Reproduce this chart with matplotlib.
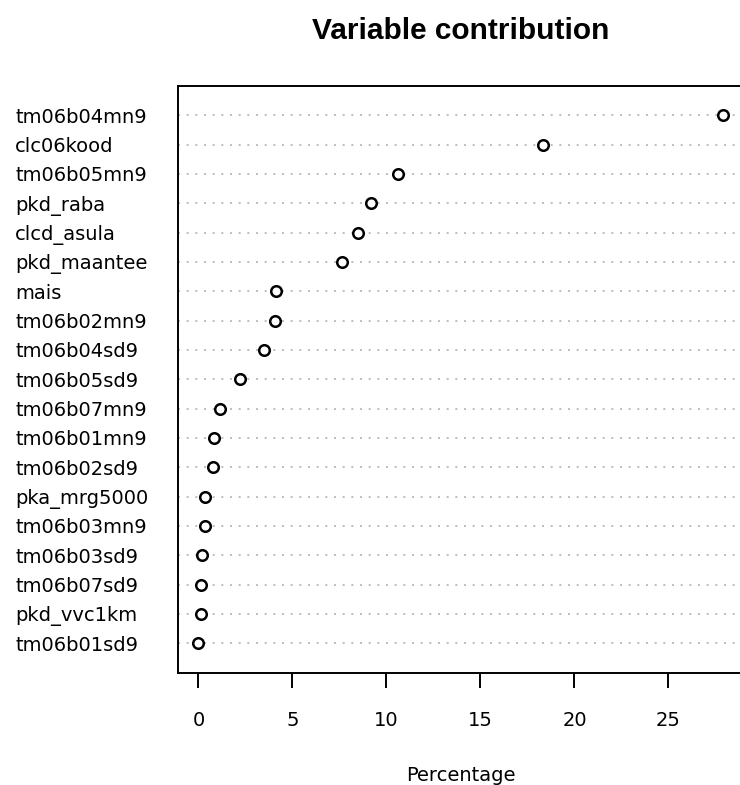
import matplotlib
matplotlib.use("Agg")
import matplotlib.pyplot as plt

# Data (top to bottom as shown)
variables = ["tm06b04mn9", "clc06kood", "tm06b05mn9", "pkd_raba", "clcd_asula",
             "pkd_maantee", "mais", "tm06b02mn9", "tm06b04sd9", "tm06b05sd9",
             "tm06b07mn9", "tm06b01mn9", "tm06b02sd9", "pka_mrg5000", "tm06b03mn9",
             "tm06b03sd9", "tm06b07sd9", "pkd_vvc1km", "tm06b01sd9"]
percentage = [27.9, 18.3, 10.6, 9.15, 8.5,
              7.66, 4.11, 4.06, 3.49, 2.22,
              1.17, 0.83, 0.78, 0.34, 0.36,
              0.21, 0.16, 0.16, 0.0]
xticks = [0, 5, 10, 15, 20, 25]

plt.rcParams['font.family'] = ['DejaVu Sans']

W, H = 740, 785
fig = plt.figure(figsize=(W / 100, H / 100), dpi=100)
left, right, top, bottom = 177.5, 744.0, 86.0, 672.5
ax = fig.add_axes([left / W, 1 - bottom / H, (right - left) / W, (bottom - top) / H])

n = len(variables)
ypos = list(range(n, 0, -1))

for y in ypos:
    ax.axhline(y, color="#b8b8b8", lw=1.3, linestyle=(0, (1.1, 3.7)), zorder=1)

ax.plot(percentage, ypos, linestyle="none", marker="o", markersize=7.6,
        markerfacecolor="white", markeredgecolor="black", markeredgewidth=1.8, zorder=3)

vmin, vmax = min(percentage), max(percentage)
span = vmax - vmin
ax.set_xlim(vmin - 0.04 * span, vmax + 0.04 * span)
ax.set_ylim(0, n + 1)

ax.set_yticks(ypos)
ax.set_yticklabels(variables, fontsize=14, ha="left")
ax.tick_params(axis="y", length=0, pad=117)

ax.set_xticks(xticks)
ax.set_xticklabels([str(t) for t in xticks], fontsize=14)
ax.tick_params(axis="x", direction="out", length=10.5, width=1.4, pad=17, colors="black")

for s in ax.spines.values():
    s.set_linewidth(1.4)
    s.set_color("black")

ax.set_xlabel("Percentage", fontsize=14, labelpad=26)
fig.text(461 / W, 1 - 31 / H, "Variable contribution", fontsize=21.5,
         fontweight="bold", family=["Liberation Sans", "DejaVu Sans"],
         ha="center", va="center")

fig.savefig("out.png", dpi=100)
